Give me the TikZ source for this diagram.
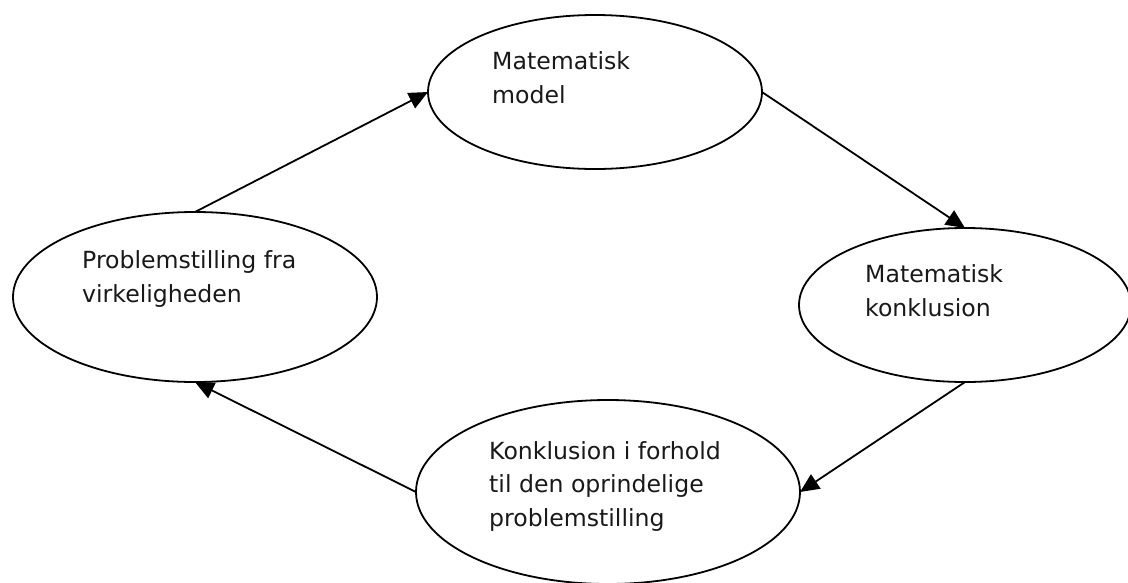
\documentclass[tikz,border=0pt]{standalone}
\usepackage{fontspec}
\setmainfont{DejaVu Sans}
\usetikzlibrary{shapes.geometric,arrows.meta}
\pgfdeclarelayer{background}
\pgfsetlayers{background,main}
\begin{document}
\begin{tikzpicture}[x=1pt,y=-1pt,
  oval/.style={ellipse, draw, line width=1.8pt, fill=white, inner sep=0pt, outer sep=0pt},
  txt/.style={anchor=base west, align=left, font=\fontsize{23.6}{33.5}\selectfont, inner sep=0pt, text=black!90},
  conn/.style={line width=1.8pt, -{Triangle[length=19pt,width=17pt]}}]
\useasboundingbox (0,0) rectangle (1128,582);
\node[oval, minimum width=334pt, minimum height=154pt] (top) at (595,92) {};
\node[oval, minimum width=364pt, minimum height=170pt] (left) at (195,297) {};
\node[oval, minimum width=332pt, minimum height=154pt] (right) at (965,305) {};
\node[oval, minimum width=384pt, minimum height=184pt] (bottom) at (608,492) {};
\node[txt] (toptext) at (492,103) {Matematisk\\model};
\node[txt] (lefttext) at (82,302) {Problemstilling fra\\virkeligheden};
\node[txt] (righttext) at (865,316) {Matematisk\\konklusion};
\node[txt] (bottomtext) at (489,526) {Konklusion i forhold\\til den oprindelige\\problemstilling};
\begin{pgfonlayer}{background}
\fill[white] (0,0) rectangle (1128,582);
\draw[conn] (left.north) -- (top.west);
\draw[conn] (top.east) -- (right.north);
\draw[conn] (right.south) -- (bottom.east);
\draw[conn] (bottom.west) -- (left.south);
\end{pgfonlayer}
\end{tikzpicture}
\end{document}
